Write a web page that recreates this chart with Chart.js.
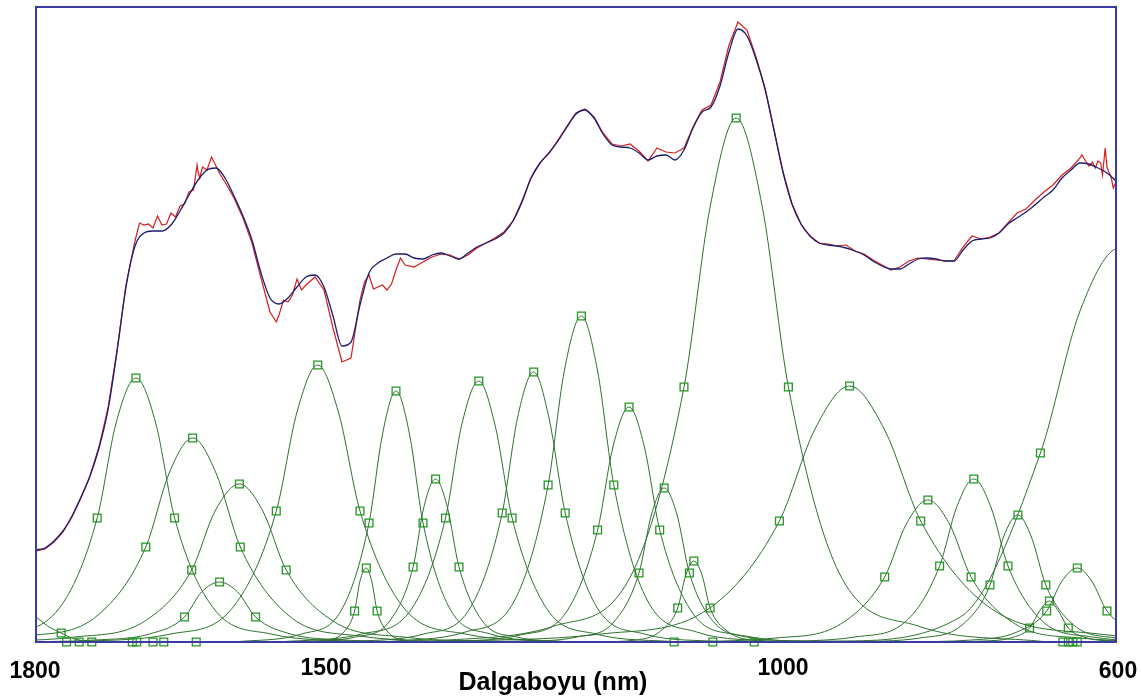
<!DOCTYPE html>
<html lang="tr">
<head>
<meta charset="UTF-8">
<title>Dalgaboyu - bant ayrıştırma</title>
<style>
  body { margin: 0; background: #fff; }
  #wrap { width: 1142px; height: 697px; }
</style>
</head>
<body>
<div id="wrap"><canvas id="spec" width="1142" height="697"></canvas></div>
<script src="https://cdn.jsdelivr.net/npm/chart.js"></script>
<script>
// wavelength grid (nm) shared by the measured and the fitted spectrum
const wavelengths = [
  1800,1790,1780,1770,1760,1750,1740,1730,1720,1710,
  1700,1690,1680,1670,1660,1650,1640,1630,1620,1610,
  1600,1590,1580,1570,1560,1550,1540,1530,1520,1510,
  1500,1490,1480,1470,1460,1450,1440,1430,1420,1410,
  1400,1390,1380,1370,1360,1350,1340,1330,1320,1310,
  1300,1290,1280,1270,1260,1250,1240,1230,1220,1210,
  1200,1190,1180,1170,1160,1150,1140,1130,1120,1110,
  1100,1090,1080,1070,1060,1050,1040,1030,1020,1010,
  1000,990,980,970,960,950,940,930,920,910,
  900,890,880,870,860,850,840,830,820,810,
  800,790,780,770,760,750,740,730,720,710,
  700,690,680,670,660,650,640,630,620,610,
  600
];

// fitted sum (blue)
const fitted = [
  92,94,101,111,126,145,166,194,232,290,
  355,396,409,411,411,417,431,447,462,472,
  474,464,446,426,402,369,344,338,344,355,
  365,367,355,326,296,300,337,369,379,384,
  388,388,384,383,387,389,386,383,389,395,
  399,403,409,421,440,464,479,489,501,515,
  528,532,524,508,497,495,494,489,482,486,
  487,482,492,514,530,535,556,590,613,606,
  583,553,512,470,438,418,406,399,397,396,
  394,391,387,381,376,373,373,378,383,384,
  383,381,381,392,401,403,404,409,418,424,
  430,437,445,452,464,472,479,478,474,469,
  461
];

// measured spectrum (red) on the same grid
const measured = [
  91,93,100,110,125,144,166,195,234,292,
  357,401,417,414,417,429,436,450,470,472,
  476,460,444,424,399,364,330,327,340,363,
  357,365,352,314,280,284,342,367,355,352,
  372,377,375,380,385,388,387,383,387,394,
  399,404,410,421,441,464,479,489,502,516,
  529,533,525,509,498,496,498,491,481,494,
  490,489,494,515,532,537,560,597,620,612,
  585,554,512,470,438,418,406,399,398,396,
  397,391,388,382,377,372,375,381,384,383,
  382,381,381,395,406,403,405,409,419,429,
  433,442,450,457,467,474,484,476,481,475,
  460
];
// extra measured points where the red trace is noisy, [nm, intensity]
const measuredExtra = [
  [1685,419],[1675,418],[1665,426],[1655,418],[1645,425],[1635,438],[1625,452],[1621,477],[1618,464],
  [1615,475],[1605,485],[1595,467],[1533,320],[1525,342],[1515,347],[1505,352],
  [1435,360],[1425,353],[1415,357],[1405,358],[1395,384],
  [638,487],[633,480],[626,480],[623,474],[617,479],[615,467],[612,494],[608,470],[606,467],[603,454]
];

// component bands, [nm, intensity]; points 4, 6 and 8 = half height, top, half height
const band01 = [[1946,0],[1839,8],[1774,34],[1732,124],[1711,219],[1689,264],[1667,219],[1646,124],[1603,34],[1539,8],[1432,0]];
const band02 = [[1942,0],[1810,6],[1731,27],[1678,95],[1652,169],[1626,204],[1600,169],[1573,95],[1520,27],[1441,6],[1309,0]];
const band03 = [[1888,0],[1757,5],[1679,21],[1627,72],[1601,131],[1574,158],[1548,131],[1522,72],[1470,21],[1392,5],[1261,0]];
const band04 = [[1832,0],[1734,2],[1674,8],[1635,25],[1616,50],[1596,60],[1576,50],[1556,25],[1517,8],[1458,2],[1359,0]];
const band05 = [[1767,0],[1650,8],[1580,36],[1533,131],[1510,230],[1487,277],[1464,230],[1440,131],[1393,36],[1323,8],[1207,0]];
const band06 = [[1580,0],[1505,8],[1460,33],[1430,119],[1415,208],[1400,251],[1385,208],[1370,119],[1340,33],[1295,8],[1220,0]];
const band07 = [[1507,0],[1476,2],[1458,10],[1446,31],[1440,61],[1433,74],[1427,61],[1421,31],[1409,10],[1391,2],[1360,0]];
const band08 = [[1509,0],[1445,5],[1407,21],[1381,75],[1369,135],[1356,163],[1343,135],[1330,75],[1304,21],[1266,5],[1202,0]];
const band09 = [[1531,0],[1438,8],[1382,34],[1345,124],[1327,217],[1308,261],[1290,217],[1271,124],[1233,34],[1178,8],[1084,0]];
const band10 = [[1457,0],[1369,8],[1317,35],[1282,129],[1265,224],[1247,270],[1230,224],[1212,129],[1177,35],[1124,8],[1037,0]];
const band11 = [[1414,0],[1323,10],[1268,42],[1231,157],[1213,271],[1194,326],[1176,271],[1158,157],[1121,42],[1066,10],[974,0]];
const band12 = [[1348,0],[1262,7],[1210,31],[1176,112],[1159,195],[1141,235],[1124,195],[1107,112],[1072,31],[1021,7],[934,0]];
const band13 = [[1269,0],[1199,5],[1158,20],[1130,69],[1116,128],[1102,154],[1088,128],[1074,69],[1047,20],[1005,5],[936,0]];
const band14 = [[1179,0],[1133,2],[1106,11],[1087,34],[1078,67],[1069,81],[1060,67],[1051,34],[1032,11],[1005,2],[959,0]];
const band15 = [[1369,0],[1224,16],[1138,68],[1080,255],[1051,435],[1022,524],[993,435],[964,255],[907,68],[820,16],[676,0]];
const band16 = [[1369,0],[1172,8],[1053,33],[974,121],[935,212],[896,256],[857,212],[817,121],[738,33],[619,8],[422,0]];
const band17 = [[1099,0],[978,4],[906,18],[857,65],[833,118],[809,142],[785,118],[761,65],[712,18],[640,4],[519,0]];
const band18 = [[984,0],[890,5],[833,21],[796,76],[777,135],[758,163],[739,135],[720,76],[682,21],[626,5],[531,0]];
const band19 = [[896,0],[818,4],[771,17],[740,57],[725,105],[709,127],[694,105],[678,57],[647,17],[600,4],[522,0]];
const band20 = [[843,0],[760,2],[710,10],[677,31],[660,61],[643,74],[627,61],[610,31],[577,10],[527,2],[443,0]];
const band21 = [[1129,0],[907,1],[773,25],[684,189],[640,331],[596,394],[552,331],[507,189],[418,25],[284,1],[62,0]];
const band22 = [[801,0],[748,1],[717,4],[696,14],[685,31],[674,41],[664,31],[653,14],[632,4],[601,1],[548,0]];
// tail of a band centred beyond 1800 nm
const edgeBand = [[1829,42],[1800,25],[1787,16],[1772,9],[1757,3],[1729,0]];

// extra square markers: on the edge band, and the ones lying on the baseline
const edgeMarks = [[1772, 9]];
const baseMarks = [1766,1752,1738,1693,1688,1670,1658,1622,1091,1048,1002,659,653,648,643];

const tickValues = [1800, 1500, 1000, 600];
const tickLabels = ['1800', '1500', '1000', '600'];
const axisTitle = 'Dalgaboyu (nm)';

const bands = [band01, band02, band03, band04, band05, band06, band07, band08, band09, band10, band11,
  band12, band13, band14, band15, band16, band17, band18, band19, band20, band21, band22];

const toXY = pts => pts.map(p => ({ x: p[0], y: p[1] }));
const BAND_LINE = 'rgb(46,112,46)';
const BAND_MARK = 'rgb(36,150,36)';
const FRAME = '#3a3aa2';
const MARKED = [3, 5, 7];

const measuredPts = wavelengths.map((w, i) => [w, measured[i]])
  .concat(measuredExtra)
  .sort((a, b) => b[0] - a[0]);

const datasets = [
  {
    data: wavelengths.map((w, i) => ({ x: w, y: fitted[i] })),
    borderColor: '#1d1d70', borderWidth: 1.3, pointRadius: 0,
    showLine: true, cubicInterpolationMode: 'monotone'
  },
  {
    data: toXY(measuredPts),
    borderColor: '#d41e1e', borderWidth: 1.2, pointRadius: 0,
    showLine: true, tension: 0
  },
  {
    data: baseMarks.map(w => ({ x: w, y: 0 })).concat(toXY(edgeMarks)),
    showLine: false, pointStyle: 'rect', pointRadius: 5.5,
    pointBorderColor: BAND_MARK, pointBackgroundColor: 'rgba(0,0,0,0)', pointBorderWidth: 1.3,
    clip: false
  },
  {
    data: toXY(edgeBand), showLine: true, borderColor: BAND_LINE, borderWidth: 1,
    pointRadius: 0, cubicInterpolationMode: 'monotone'
  }
];

bands.forEach(b => {
  datasets.push({
    data: toXY(b),
    showLine: true,
    borderColor: BAND_LINE,
    borderWidth: 1,
    cubicInterpolationMode: 'monotone',
    pointStyle: 'rect',
    pointRadius: c => MARKED.includes(c.dataIndex) ? 5.5 : 0,
    pointBorderColor: BAND_MARK,
    pointBackgroundColor: 'rgba(0,0,0,0)',
    pointBorderWidth: 1.3
  });
});

// frame, wavelength labels and axis title
const frameAndText = {
  id: 'frameAndText',
  afterDraw(chart) {
    const ctx = chart.ctx;
    const a = chart.chartArea;
    const xs = chart.scales.x;
    ctx.save();
    ctx.strokeStyle = FRAME;
    ctx.lineWidth = 2;
    ctx.strokeRect(a.left, a.top, a.right - a.left, a.bottom - a.top);

    ctx.fillStyle = '#000';
    ctx.textAlign = 'center';
    ctx.textBaseline = 'middle';
    ctx.font = 'bold 23px "Liberation Sans", Arial, sans-serif';
    const dx = [-1, 20, 27, 2];
    const dy = [30, 27, 27, 30];
    tickValues.forEach((v, i) => {
      ctx.fillText(tickLabels[i], xs.getPixelForValue(v) + dx[i], a.bottom + dy[i]);
    });
    ctx.font = 'bold 25px "Liberation Sans", Arial, sans-serif';
    ctx.fillText(axisTitle, (a.left + a.right) / 2 - 23, a.bottom + 41);
    ctx.restore();
  }
};

new Chart(document.getElementById('spec'), {
  type: 'scatter',
  data: { datasets },
  options: {
    responsive: false,
    animation: false,
    devicePixelRatio: 1,
    layout: { padding: { left: 36, top: 7, right: 26, bottom: 55 } },
    plugins: { legend: { display: false }, tooltip: { enabled: false } },
    scales: {
      x: { type: 'linear', min: 600, max: 1800, reverse: true, display: false },
      y: { min: 0, max: 635, display: false }
    }
  },
  plugins: [frameAndText]
});
</script>
</body>
</html>
